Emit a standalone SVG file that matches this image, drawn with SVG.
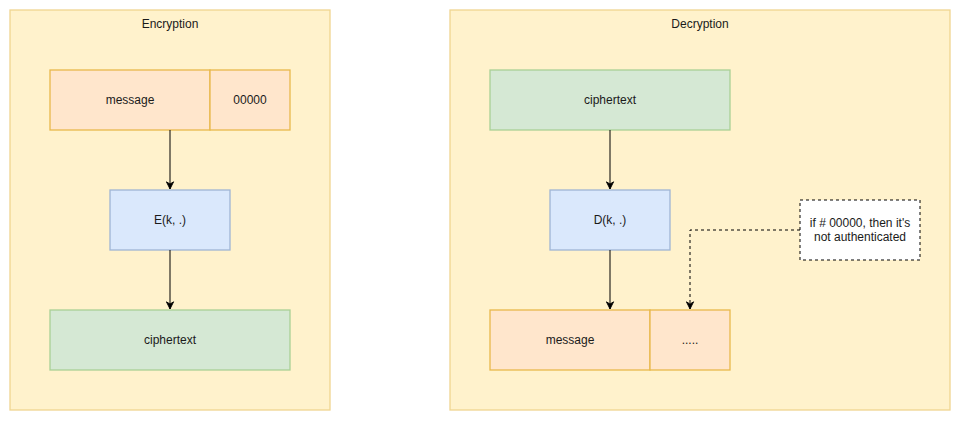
<svg xmlns="http://www.w3.org/2000/svg" width="961" height="421" viewBox="0 0 961 421">
<style>
text{font-family:"Liberation Sans",Arial,Helvetica,sans-serif;font-size:12px;fill:#1a1a1a;text-anchor:middle;dominant-baseline:central}
.cont{fill:#fff2cc;stroke:#f0d590;stroke-width:1.3}
.org{fill:#ffe6cc;stroke:#e8b84c;stroke-width:1.3}
.blu{fill:#dae8fc;stroke:#9fb4d5;stroke-width:1.3}
.grn{fill:#d5e8d4;stroke:#a9d096;stroke-width:1.3}
.note{fill:#ffffff;stroke:#000;stroke-width:1;stroke-dasharray:3 3}
.edge{fill:none;stroke:#000;stroke-width:1}
.dash{stroke-dasharray:3 3}
</style>
<defs>
<marker id="arr" viewBox="0 0 10 10" refX="9" refY="5" markerWidth="9" markerHeight="9" markerUnits="userSpaceOnUse" orient="auto">
<path d="M1,1 L9,5 L1,9 L3.5,5 Z" fill="#000" stroke="#000" stroke-width="1"/>
</marker>
</defs>
<rect width="961" height="421" fill="#ffffff"/>
<g id="encryption">
<rect class="cont" x="10" y="10" width="320" height="400"/>
<text x="170" y="24">Encryption</text>
</g>
<g id="decryption">
<rect class="cont" x="450" y="10" width="500" height="400"/>
<text x="700" y="24">Decryption</text>
</g>
<g id="enc-message">
<rect class="org" x="50" y="70" width="160" height="60"/>
<text x="130" y="100">message</text>
</g>
<g id="enc-zeros">
<rect class="org" x="210" y="70" width="80" height="60"/>
<text x="250" y="100">00000</text>
</g>
<g id="enc-E">
<rect class="blu" x="110" y="190" width="120" height="60"/>
<text x="170" y="220">E(k, .)</text>
</g>
<g id="enc-cipher">
<rect class="grn" x="50" y="310" width="240" height="60"/>
<text x="170" y="340">ciphertext</text>
</g>
<g id="dec-cipher">
<rect class="grn" x="490" y="70" width="240" height="60"/>
<text x="610" y="100">ciphertext</text>
</g>
<g id="dec-D">
<rect class="blu" x="550" y="190" width="120" height="60"/>
<text x="610" y="220">D(k, .)</text>
</g>
<g id="dec-message">
<rect class="org" x="490" y="310" width="160" height="60"/>
<text x="570" y="340">message</text>
</g>
<g id="dec-dots">
<rect class="org" x="650" y="310" width="80" height="60"/>
<text x="690" y="340">.....</text>
</g>
<g id="note">
<rect class="note" x="800" y="200" width="120" height="60"/>
<text x="860" y="223">if # 00000, then it's</text>
<text x="860" y="237">not authenticated</text>
</g>
<g id="connectors">
<path class="edge" d="M170,130 L170,189" marker-end="url(#arr)"/>
<path class="edge" d="M170,250 L170,309" marker-end="url(#arr)"/>
<path class="edge" d="M610,130 L610,189" marker-end="url(#arr)"/>
<path class="edge" d="M610,250 L610,309" marker-end="url(#arr)"/>
<path class="edge dash" d="M800,230 L690,230 L690,309" marker-end="url(#arr)"/>
</g>
</svg>
